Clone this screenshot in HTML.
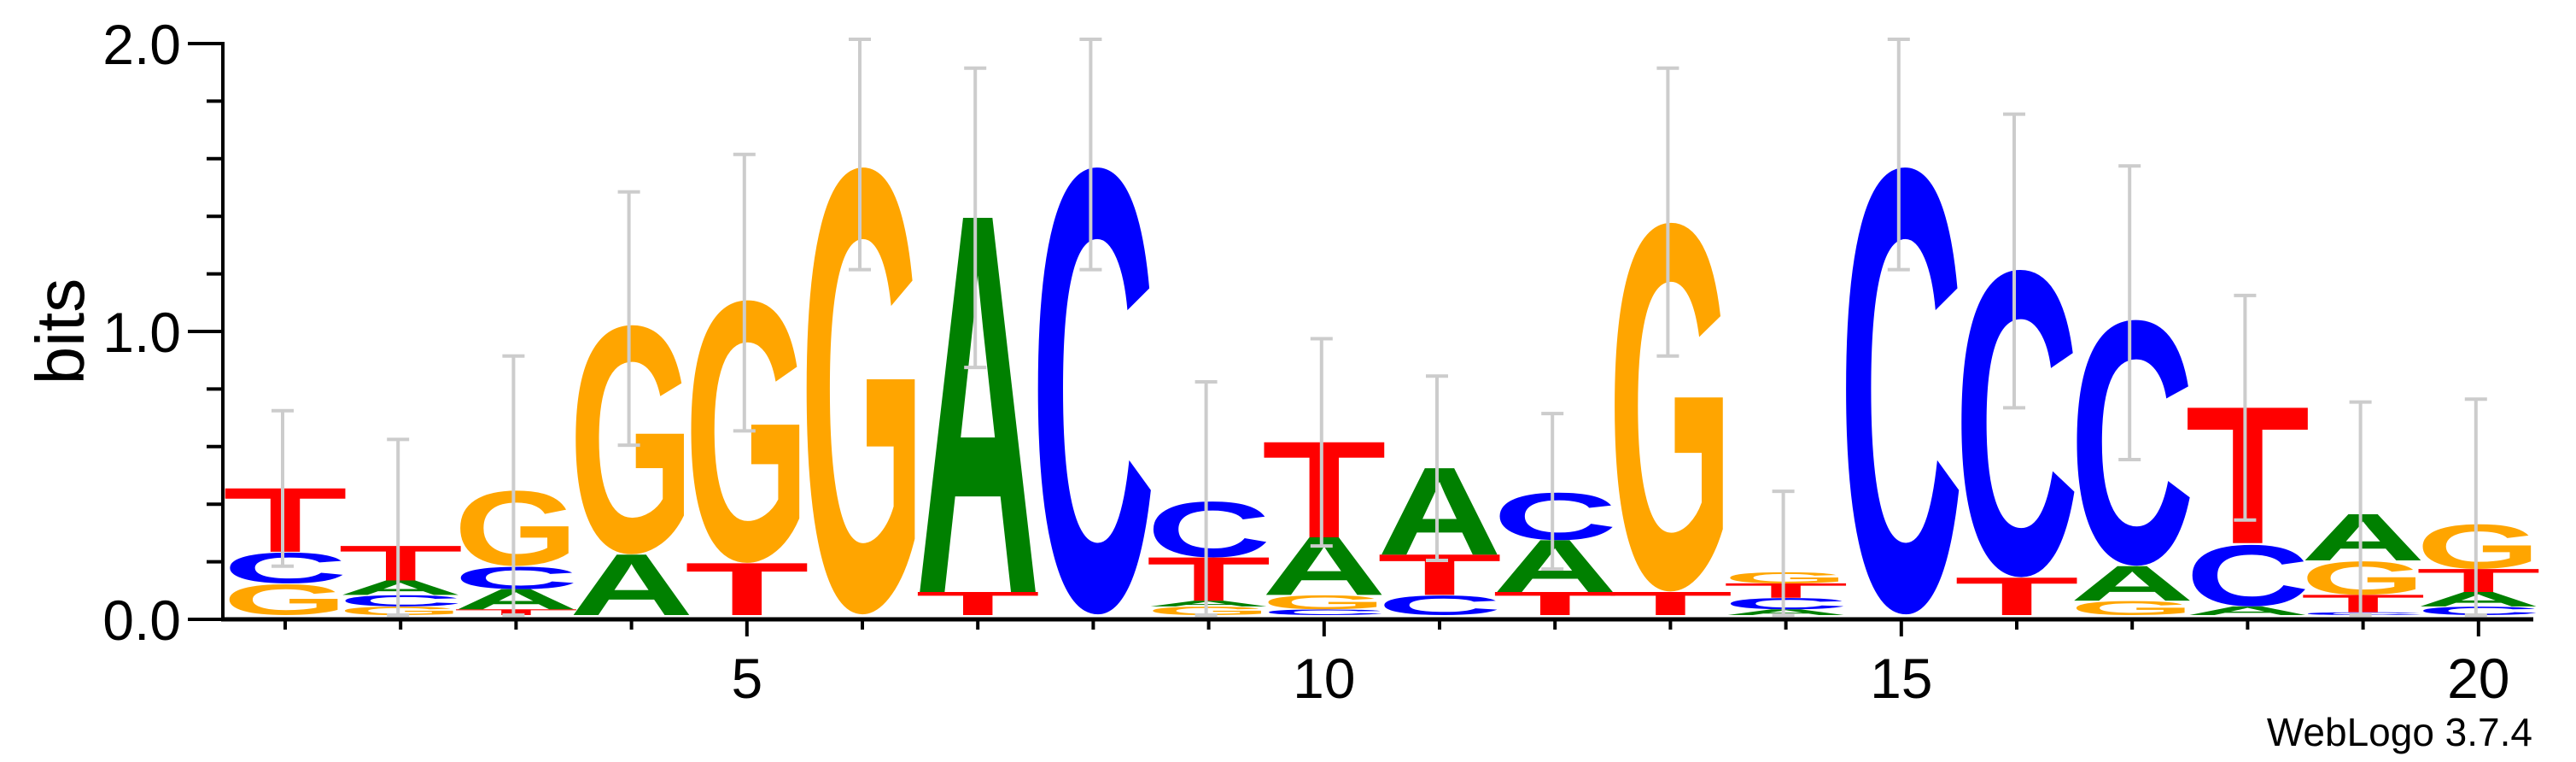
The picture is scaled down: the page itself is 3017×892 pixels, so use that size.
<!DOCTYPE html>
<html><head><meta charset="utf-8"><style>
html,body{margin:0;padding:0;background:#fff}
svg{display:block}
text{font-family:"Liberation Sans",sans-serif}
</style></head><body>
<svg id="chart" width="3017" height="892" viewBox="0 0 3017 892" xmlns="http://www.w3.org/2000/svg">
<g id="stacks"></g>
<g id="errs"></g>
<g id="axes"></g>
<text x="0" y="0" font-size="80" transform="translate(98,388) rotate(-90)" text-anchor="middle">bits</text>
<text x="2966" y="873" font-size="46" text-anchor="end">WebLogo 3.7.4</text>
</svg>
<script>
// letters bottom-to-top per position, heights in bits
const positions = [1,2,3,4,5,6,7,8,9,10,11,12,13,14,15,16,17,18,19,20];
const letters = [
 ["G","C","T"],["G","C","A","T"],["T","A","C","G"],["A","G"],["T","G"],["G"],["T","A"],["C"],
 ["G","A","T","C"],["C","G","A","T"],["C","T","A"],["T","A","C"],["T","G"],["A","C","T","G"],
 ["C"],["T","C"],["G","A","C"],["A","C","T"],["C","T","G","A"],["C","A","T","G"]];
const heights = [
 [0.11,0.11,0.22],[0.03,0.04,0.05,0.12],[0.02,0.07,0.08,0.27],[0.21,0.82],[0.18,0.94],[1.6],[0.08,1.3],[1.6],
 [0.03,0.02,0.15,0.2],[0.02,0.05,0.2,0.33],[0.07,0.14,0.3],[0.08,0.18,0.17],[0.08,1.32],[0.02,0.04,0.05,0.04],
 [1.6],[0.13,1.1],[0.05,0.12,0.88],[0.03,0.22,0.47],[0.01,0.06,0.12,0.16],[0.03,0.05,0.08,0.16]];
const errTop = [0.71,0.61,0.9,1.47,1.6,2.0,1.9,2.0,0.81,0.96,0.83,0.7,1.9,0.43,2.0,1.74,1.56,1.11,0.74,0.75];
const yTicks = [0.0,1.0,2.0];
const xTickLabels = [5,10,15,20];

const colors = {A:"#008000",C:"#0000ff",G:"#ffa500",T:"#ff0000"};
const NS="http://www.w3.org/2000/svg";
const y0=725, pxPerBit=337, stackBase=720;
const xOf = p => 334 + 135.2*(p-1);
const yOf = b => y0 - b*pxPerBit;
const hOf = b => b*pxPerBit;
function mk(tag, attrs, parent){const e=document.createElementNS(NS,tag);for(const k in attrs)e.setAttribute(k,attrs[k]);parent.appendChild(e);return e;}

const stacks=document.getElementById('stacks');
const errs=document.getElementById('errs');
const axes=document.getElementById('axes');
const LW=128;
positions.forEach((p,i)=>{
  let base=stackBase, total=0;
  letters[i].forEach((L,j)=>{
    const h=hOf(heights[i][j]); total+=heights[i][j];
    if(h<0.5){return;}
    const cap=(L==='C'||L==='G')?73:68.8;
    const off=(L==='C'||L==='G')?h*0.015:0;
    const t=mk('text',{x:-9,y:0,'font-size':100,'font-weight':'bold',textLength:LW+18,lengthAdjust:'spacingAndGlyphs',fill:colors[L],
      transform:`translate(${xOf(p)-LW/2},${base-off}) scale(1,${h/cap})`},stacks);
    t.textContent=L;
    
    
    base-=h;
  });
  const half=errTop[i]-total;
  const xc=xOf(p)-3, yt=stackBase-hOf(total+half), yb=stackBase-hOf(Math.max(0,total-half));
  const g=mk('g',{stroke:'#cccccc','stroke-width':4,fill:'none'},errs);
  
  
  mk('line',{x1:xc,x2:xc,y1:yt,y2:yb},g);
  mk('line',{x1:xc-13,x2:xc+13,y1:yt,y2:yt},g);
  mk('line',{x1:xc-13,x2:xc+13,y1:yb,y2:yb},g);
});

// y axis
let ya=mk('line',{x1:261,x2:261,y1:yOf(2)-2,y2:y0+2,stroke:'#000','stroke-width':4},axes);


for(let k=0;k<=10;k++){
  const b=k*0.2, major=(k%5===0);
  mk('line',{x1:major?220:242,x2:261,y1:yOf(b),y2:yOf(b),stroke:'#000','stroke-width':4},axes);
}
yTicks.forEach(v=>{
  const t=mk('text',{x:212,y:yOf(v)+24,'font-size':66,'text-anchor':'end'},axes);
  t.textContent=v.toFixed(1);
  
  
});
// x axis
let xa=mk('line',{x1:259,x2:2967,y1:y0,y2:y0,stroke:'#000','stroke-width':5},axes);


positions.forEach(p=>{
  const major=xTickLabels.includes(p);
  mk('line',{x1:xOf(p),x2:xOf(p),y1:y0,y2:y0+(major?20:12),stroke:'#000','stroke-width':4},axes);
});
xTickLabels.forEach(v=>{
  const t=mk('text',{x:xOf(v),y:817,'font-size':66,'text-anchor':'middle'},axes);
  t.textContent=v;
  
  
});
</script>
</body></html>
